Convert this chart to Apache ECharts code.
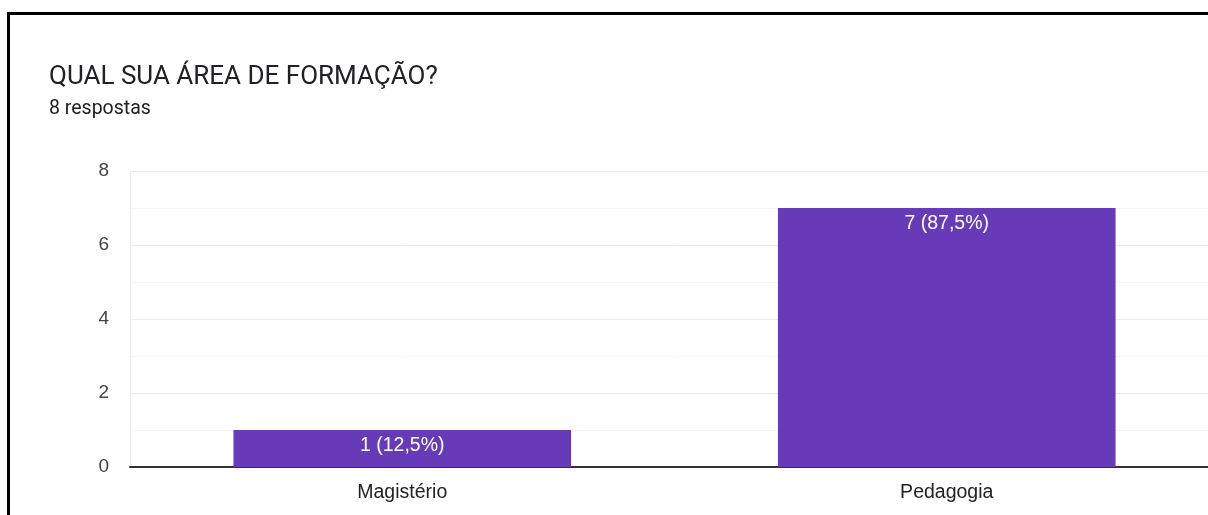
<!DOCTYPE html>
<html>
<head>
<meta charset="utf-8">
<script src="https://cdn.jsdelivr.net/npm/echarts@6/dist/echarts.min.js"></script>
<style>
  html, body { margin: 0; padding: 0; background: #fff; overflow: hidden; width: 1208px; height: 515px; }
  #frame { position: absolute; left: 7px; top: 12px; width: 1201px; height: 503px;
           border-top: 3px solid #000; border-left: 3px solid #000; box-sizing: border-box; z-index: 2; pointer-events: none; }
  #chart { position: absolute; left: 0; top: 0; width: 1230px; height: 515px; }
</style>
</head>
<body>
<div id="frame"></div>
<div id="chart"></div>
<script>
const titleText = 'QUAL SUA ÁREA DE FORMAÇÃO?';
const subtitleText = '8 respostas';
const categories = ['Magistério', 'Pedagogia'];
const counts = [1, 7];
const percentLabels = ['12,5%', '87,5%'];
const yTicks = [0, 2, 4, 6, 8];

const chart = echarts.init(document.getElementById('chart'), null, { renderer: 'canvas' });

chart.setOption({
  animation: false,
  textStyle: { fontFamily: 'Roboto, Arial, sans-serif' },
  title: [{
    text: titleText,
    left: 44,
    top: 59,
    textStyle: { fontSize: 26, fontWeight: 'normal', color: '#202124', fontFamily: 'Roboto, Arial, sans-serif' }
  }, {
    text: subtitleText,
    left: 44,
    top: 94,
    textStyle: { fontSize: 19.5, fontWeight: 'normal', color: '#202124', fontFamily: 'Roboto, Arial, sans-serif' }
  }],
  grid: { left: 130, right: 11, top: 171, bottom: 48, containLabel: false },
  xAxis: {
    type: 'category',
    data: categories,
    axisLine: { show: true, lineStyle: { color: '#333', width: 2 } },
    axisTick: { show: false },
    axisLabel: { fontSize: 19.5, color: '#222', margin: 16, fontFamily: 'Arial, Liberation Sans, sans-serif' },
    splitLine: { show: false }
  },
  yAxis: {
    type: 'value',
    min: yTicks[0],
    max: yTicks[yTicks.length - 1],
    interval: 2,
    axisLine: { show: true, lineStyle: { color: '#ececec', width: 1 } },
    axisTick: { show: false },
    axisLabel: { fontSize: 19, color: '#444', margin: 21, fontFamily: 'Arial, Liberation Sans, sans-serif' },
    splitLine: { show: true, lineStyle: { color: '#ebebeb', width: 1 } },
    minorTick: { show: false, splitNumber: 2 },
    minorSplitLine: { show: true, lineStyle: { color: '#f6f6f6', width: 1 } }
  },
  series: [{
    type: 'bar',
    data: counts,
    barWidth: '62%',
    itemStyle: { color: '#673ab7' },
    label: {
      show: true,
      position: 'insideTop',
      distance: 6,
      color: '#fff',
      fontSize: 19.5,
      fontFamily: 'Arial, Liberation Sans, sans-serif',
      formatter: p => p.value + ' (' + percentLabels[p.dataIndex] + ')'
    }
  }]
});
</script>
</body>
</html>
